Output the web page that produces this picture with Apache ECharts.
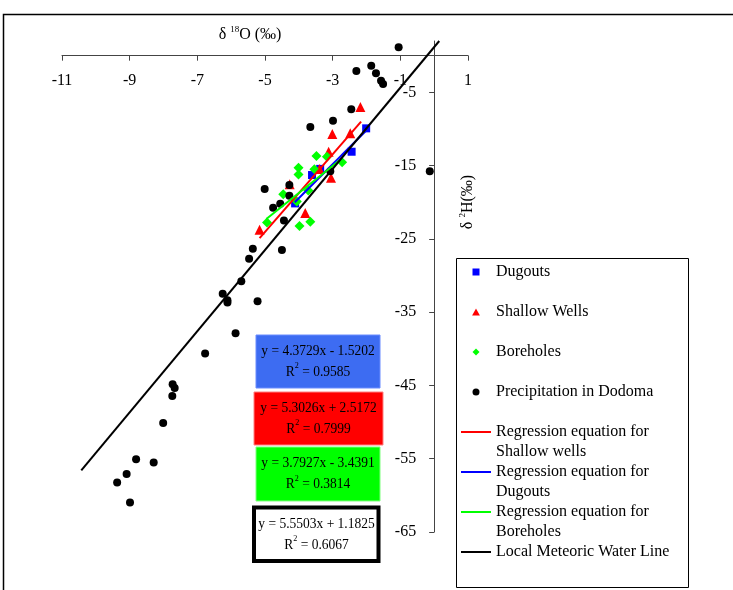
<!DOCTYPE html>
<html lang="en">
<head>
<meta charset="UTF-8">
<title>δ18O vs δ2H</title>
<script src="https://cdn.jsdelivr.net/npm/echarts@6/dist/echarts.min.js"></script>
<style>html,body{margin:0;padding:0;background:#fff;}</style>
</head>
<body>
<div id="main" style="width:733px;height:590px;"></div>
<script>
// tick labels
var xTicks = [-11, -9, -7, -5, -3, -1, 1];
var yTicks = [-65, -55, -45, -35, -25, -15, -5];

// [δ18O, δ2H]
var dugouts = [[-4.11, -20.16], [-3.61, -16.29], [-3.37, -15.45], [-2.44, -13.11], [-2.01, -9.92]];
var shallowWells = [[-2.18, -7.0], [-3.01, -10.7], [-2.48, -10.6], [-3.12, -13.1], [-3.05, -16.66],
    [-3.39, -15.47], [-4.27, -17.55], [-3.81, -21.47], [-5.16, -23.75]];
var boreholes = [[-3.48, -13.7], [-3.17, -13.8], [-2.72, -14.56], [-4.01, -15.3], [-4.01, -16.2],
    [-3.54, -15.5], [-4.46, -18.9], [-3.72, -18.4], [-4.06, -19.9], [-4.94, -22.75],
    [-3.98, -23.26], [-3.66, -22.67]];
var precipitation = [[-1.05, 1.15], [-2.30, -2.09], [-1.86, -1.37], [-1.72, -2.41], [-1.57, -3.42],
    [-1.51, -3.87], [-2.45, -7.32], [-2.99, -8.88], [-3.66, -9.74], [-3.07, -15.79],
    [-0.13, -15.79], [-4.28, -17.66], [-5.01, -18.2], [-4.28, -19.12], [-4.55, -20.2],
    [-4.76, -20.76], [-4.44, -22.48], [-4.50, -26.53], [-5.36, -26.36], [-5.47, -27.72],
    [-5.70, -30.77], [-6.25, -32.5], [-6.11, -33.36], [-6.11, -33.68], [-5.22, -33.5],
    [-5.87, -37.87], [-6.77, -40.64], [-7.73, -44.83], [-7.67, -45.34], [-7.74, -46.43],
    [-8.01, -50.12], [-8.81, -55.08], [-8.29, -55.53], [-9.09, -57.08], [-9.37, -58.26],
    [-8.99, -60.99]];

// regression line end points
var regShallow = [[-5.16, -24.9], [-2.16, -9.0]];
var regDugouts = [[-4.12, -20.0], [-1.94, -9.9]];
var regBoreholes = [[-4.96, -22.3], [-2.72, -14.0]];
var lmwl = [[-10.43, -56.6], [0.15, 2.0]];

// equation boxes
var eqText = [
    ['y = 4.3729x - 1.5202', '0.9585'],
    ['y = 5.3026x + 2.5172', '0.7999'],
    ['y = 3.7927x - 3.4391', '0.3814'],
    ['y = 5.5503x + 1.1825', '0.6067']
];

var font = '"Liberation Serif", "Times New Roman", serif';

var legendText = {
    'Dugouts': '\nDugouts\n',
    'Shallow Wells': '\nShallow Wells\n',
    'Boreholes': '\nBoreholes\n',
    'Precipitation in Dodoma': '\nPrecipitation in Dodoma\n',
    'Regression equation for Shallow wells': '\nRegression equation for\nShallow wells',
    'Regression equation for Dugouts': '\nRegression equation for\nDugouts',
    'Regression equation for Boreholes': '\nRegression equation for\nBoreholes',
    'Local Meteoric Water Line': '\nLocal Meteoric Water Line\n'
};
var legendIcons = {
    'Dugouts': 'path://M0,0L1,0L1,1L0,1Z',
    'Shallow Wells': 'path://M0.5,0L1,0.9L0,0.9Z',
    'Boreholes': 'path://M0.5,0L1,0.5L0.5,1L0,0.5Z',
    'Precipitation in Dodoma': 'circle'
};
var lineIcon = 'path://M0,0L15,0L15,1L0,1Z';

// plot geometry (px)
var gridL = 62, gridR = 265, gridT = 41, gridB = 58;
var xMin = -11, xMax = 1, yMin = -65, yMax = 2;
var plotW = 733 - gridL - gridR, plotH = 590 - gridT - gridB;
// axes cross at (0, 0)
var xAxisOffset = -(plotH * (0 - yMin) / (yMax - yMin));
var yAxisOffset = -(plotW * (0 - xMin) / (xMax - xMin));

var supStyle = {fontSize: 9, fontFamily: font, lineHeight: 12, verticalAlign: 'top', fill: '#000'};

function eqBox(x, y, w, h, fill, stroke, lw, lines, cx) {
    return {
        type: 'group',
        children: [
            {type: 'rect', shape: {x: x, y: y, width: w, height: h},
             style: {fill: fill, stroke: stroke, lineWidth: lw}},
            {type: 'text', x: cx, y: y + h / 2, scaleX: 0.9,
             style: {text: lines[0] + '\nR{sup|2} = ' + lines[1], align: 'center', verticalAlign: 'middle',
                     fontSize: 15, fontFamily: font, lineHeight: 21, fill: '#000',
                     rich: {sup: supStyle}}}
        ]
    };
}

var chart = echarts.init(document.getElementById('main'));

chart.setOption({
    animation: false,
    grid: {left: gridL, right: gridR, top: gridT, bottom: gridB},
    xAxis: {
        type: 'value', min: xMin, max: xMax, interval: 2, position: 'bottom', offset: xAxisOffset,
        axisLine: {onZero: false, lineStyle: {color: '#444', width: 1}},
        axisTick: {length: 5, lineStyle: {color: '#444'}},
        axisLabel: {margin: 17, fontSize: 16, fontFamily: font, color: '#000'},
        splitLine: {show: false}
    },
    yAxis: {
        type: 'value', min: yMin, max: yMax, position: 'left', offset: yAxisOffset,
        axisLine: {onZero: false, lineStyle: {color: '#444', width: 1}},
        axisTick: {length: 5, customValues: yTicks, lineStyle: {color: '#444'}},
        axisLabel: {margin: 18, fontSize: 16, fontFamily: font, color: '#000', customValues: yTicks},
        splitLine: {show: false}
    },
    legend: {
        orient: 'vertical', left: 461, top: 242, padding: 0,
        itemWidth: 30, itemHeight: 7, itemGap: -20,
        selectedMode: false,
        textStyle: {fontSize: 16, fontFamily: font, lineHeight: 20, color: '#000'},
        formatter: function (name) { return legendText[name]; },
        data: Object.keys(legendText).map(function (n) {
            return {name: n, icon: legendIcons[n] || lineIcon};
        })
    },
    graphic: [
        {type: 'rect', shape: {x: 3.5, y: 14.5, width: 900, height: 800},
         style: {fill: 'none', stroke: '#000', lineWidth: 1.5}, silent: true},
        {type: 'rect', shape: {x: 456.5, y: 258.5, width: 232, height: 329},
         style: {fill: 'none', stroke: '#000', lineWidth: 1}, silent: true},
        {type: 'text', x: 250, y: 35,
         style: {text: 'δ {sup|18}O (‰)', align: 'center', verticalAlign: 'middle', fontSize: 16,
                 fontFamily: font, lineHeight: 20, fill: '#000', rich: {sup: supStyle}}},
        {type: 'text', x: 468, y: 202, rotation: Math.PI / 2,
         style: {text: 'δ {sup|2}H(‰)', align: 'center', verticalAlign: 'middle', fontSize: 16,
                 fontFamily: font, lineHeight: 20, fill: '#000', rich: {sup: supStyle}}},
        eqBox(256, 335, 124, 53, '#3d6cf2', '#6a8cff', 1, eqText[0], 318),
        eqBox(254, 392, 129, 53, '#ff0000', '#ff8080', 1, eqText[1], 318.5),
        eqBox(256, 447, 124, 54, '#00ff00', '#80ff80', 1, eqText[2], 318),
        eqBox(254, 507.5, 124.5, 53.5, '#ffffff', '#000000', 4, eqText[3], 316.5)
    ],
    series: [
        {name: 'Dugouts', type: 'scatter', symbol: 'rect', symbolSize: 8,
         itemStyle: {color: '#0000ff', opacity: 1}, data: dugouts},
        {name: 'Shallow Wells', type: 'scatter', symbol: 'triangle', symbolSize: 10,
         itemStyle: {color: '#ff0000', opacity: 1}, data: shallowWells},
        {name: 'Boreholes', type: 'scatter', symbol: 'diamond', symbolSize: 10,
         itemStyle: {color: '#00ff00', opacity: 1}, data: boreholes},
        {name: 'Precipitation in Dodoma', type: 'scatter', symbol: 'circle', symbolSize: 8,
         itemStyle: {color: '#000000', opacity: 1}, data: precipitation},
        {name: 'Regression equation for Shallow wells', type: 'line', symbol: 'none',
         lineStyle: {color: '#ff0000', width: 2}, itemStyle: {color: '#ff0000'}, data: regShallow},
        {name: 'Regression equation for Dugouts', type: 'line', symbol: 'none',
         lineStyle: {color: '#0000ff', width: 2}, itemStyle: {color: '#0000ff'}, data: regDugouts},
        {name: 'Regression equation for Boreholes', type: 'line', symbol: 'none',
         lineStyle: {color: '#00ff00', width: 2}, itemStyle: {color: '#00ff00'}, data: regBoreholes},
        {name: 'Local Meteoric Water Line', type: 'line', symbol: 'none',
         lineStyle: {color: '#000000', width: 2}, itemStyle: {color: '#000000'}, data: lmwl}
    ]
});
</script>
</body>
</html>
